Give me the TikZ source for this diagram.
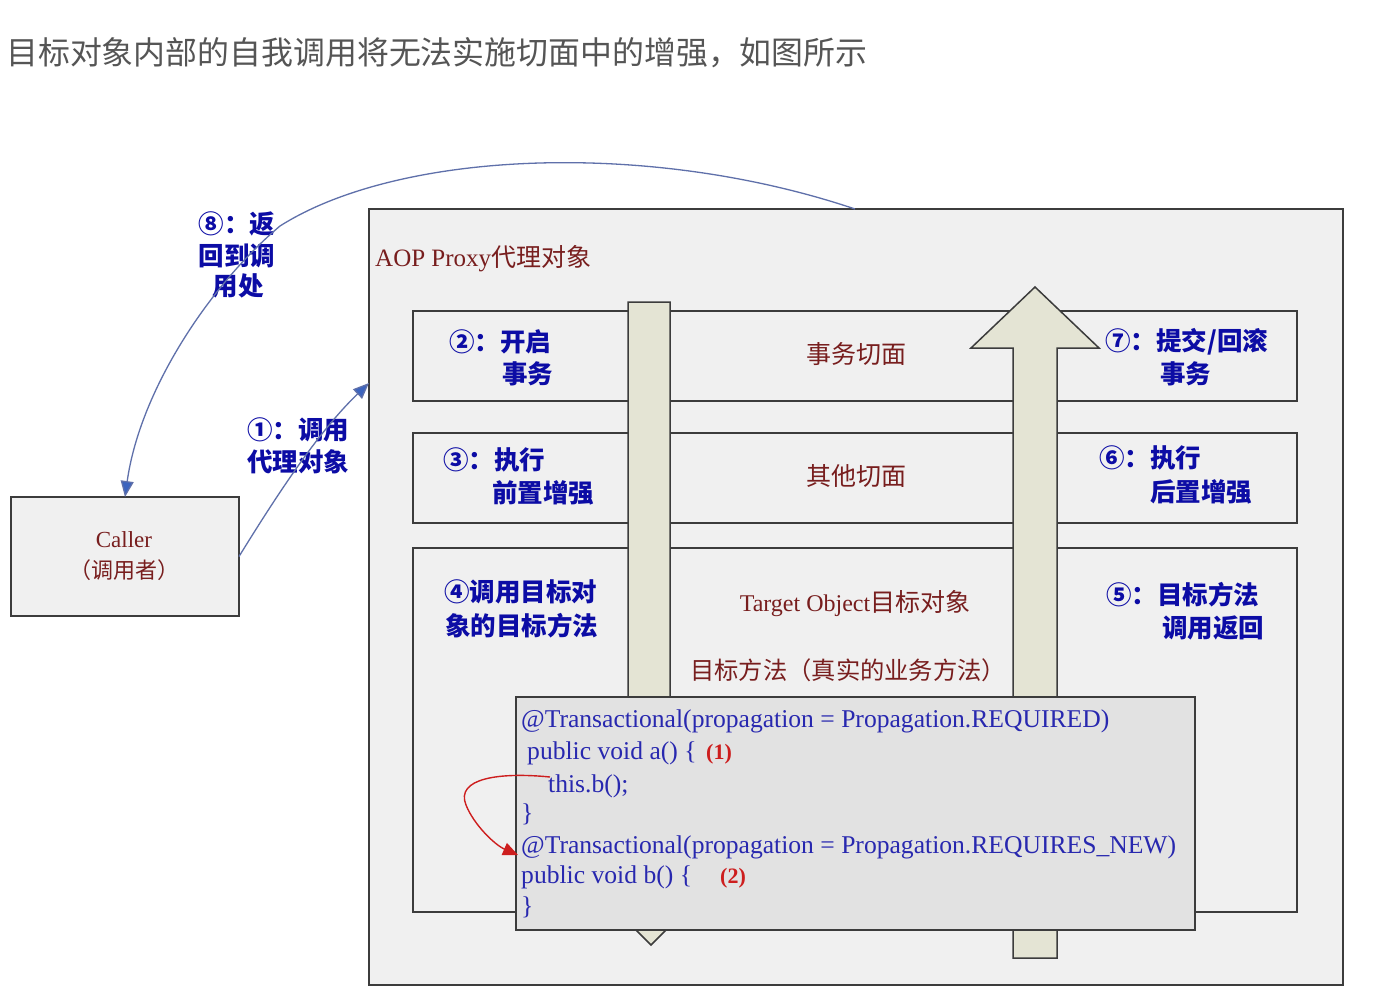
\documentclass[tikz,border=0pt]{standalone}
\usepackage{fontspec}
\setmainfont{Liberation Serif}
\newfontfamily\cjk{Noto Sans CJK SC}
\newfontfamily\lser{Liberation Serif}
\usetikzlibrary{arrows.meta}
\definecolor{labblue}{RGB}{12,12,165}
\definecolor{codeblue}{RGB}{40,40,175}
\definecolor{dred}{RGB}{120,30,30}
\definecolor{lred}{RGB}{205,30,30}
\definecolor{edge}{RGB}{60,60,60}
\definecolor{boxfill}{RGB}{240,240,240}
\definecolor{shaft}{RGB}{228,228,212}
\definecolor{codefill}{RGB}{226,226,226}
\definecolor{curve}{RGB}{95,112,170}
\definecolor{tipblue}{RGB}{60,100,190}
\definecolor{titlegray}{RGB}{85,85,85}
\tikzset{
  panel/.style={draw=edge, line width=1.8pt, fill=boxfill, inner sep=0pt, outer sep=0pt, anchor=north west},
  bluelab/.style={text=labblue, font=\cjk\bfseries\fontsize{25.5}{30}\selectfont, inner sep=0pt, anchor=west},
  bluelabc/.style={text=labblue, font=\cjk\bfseries\fontsize{25.5}{30}\selectfont, inner sep=0pt, anchor=center},
  redtxt/.style={text=dred, font=\cjk\fontsize{25}{30}\selectfont, inner sep=0pt},
  codetxt/.style={text=codeblue, font=\lser\fontsize{25.6}{30}\selectfont, inner sep=0pt, anchor=base west},
  codenum/.style={text=lred, font=\lser\bfseries\fontsize{22}{26}\selectfont, inner sep=0pt, anchor=base west},
  bigarrow/.style={draw=edge, line width=1.5pt, fill=shaft},
  flow/.style={draw=curve, line width=1.3pt, -{Triangle[length=16pt,width=13pt,fill=tipblue]}},
  selfcall/.style={draw=lred, line width=1.4pt, -{Triangle[length=15pt,width=13pt,fill=lred]}}
}
\begin{document}
\begin{tikzpicture}[x=1pt,y=-1pt]
\fill[white] (0,0) rectangle (1386,998);
\useasboundingbox (0,0) rectangle (1386,998);

% title
\node[text=titlegray, font=\cjk\fontsize{31.9}{36}\selectfont, inner sep=0pt, anchor=west] (title) at (6,53) {目标对象内部的自我调用将无法实施切面中的增强，如图所示};

% caller
\node[panel, minimum width=228pt, minimum height=119pt] (caller) at (11,497) {};
\node[text=dred, font=\lser\fontsize{23}{27}\selectfont, inner sep=0pt] (callername) at (124,540) {Caller};
\node[redtxt, font=\cjk\fontsize{22}{26}\selectfont] (callerzh) at (124,570) {（调用者）};

% proxy box
\node[panel, minimum width=974pt, minimum height=776pt] (proxy) at (369,209) {};
\node[redtxt, anchor=west] (proxytitle) at (375,259) {{\lser AOP Proxy}代理对象};

% rows
\node[panel, minimum width=884pt, minimum height=90pt] (row1) at (413,311) {};
\node[panel, minimum width=884pt, minimum height=90pt] (row2) at (413,433) {};
\node[panel, minimum width=884pt, minimum height=364pt] (row3) at (413,548) {};

% big arrows
\path[bigarrow] (628,302) -- (670,302) -- (670,881) -- (715,881) -- (651,945) -- (587,881) -- (628,881) -- cycle;
\path[bigarrow] (1013,958) -- (1057,958) -- (1057,348) -- (1099,348) -- (1035,287) -- (971,348) -- (1013,348) -- cycle;

% row texts
\node[bluelab] (l2a) at (449,342) {②：开启};
\node[bluelab] (l2b) at (502,374) {事务};
\node[redtxt] (asp1) at (856,354) {事务切面};
\node[bluelab] (l7a) at (1105,342) {⑦：提交/回滚};
\node[bluelab] (l7b) at (1160,374) {事务};

\node[bluelab] (l3a) at (443,460) {③：执行};
\node[bluelab] (l3b) at (492,493) {前置增强};
\node[redtxt] (asp2) at (856,476) {其他切面};
\node[bluelab] (l6a) at (1099,458) {⑥：执行};
\node[bluelab] (l6b) at (1150,492) {后置增强};

\node[bluelab] (l4a) at (444,592) {④调用目标对};
\node[bluelab] (l4b) at (445,626) {象的目标方法};
\node[redtxt] (tobj) at (855,604) {{\lser\fontsize{24}{28}\selectfont Target Object}目标对象};
\node[redtxt, anchor=west, font=\cjk\fontsize{24.3}{29}\selectfont] (tmeth) at (690,670) {目标方法（真实的业务方法）};
\node[bluelab] (l5a) at (1106,595) {⑤：目标方法};
\node[bluelab] (l5b) at (1162,628) {调用返回};

% code box
\node[panel, draw=edge, fill=codefill, minimum width=679pt, minimum height=233pt] (code) at (516,697) {};
\node[codetxt] (c1) at (521,727) {@Transactional(propagation = Propagation.REQUIRED)};
\node[codetxt] (c2) at (527,759) {public void a() \{};
\node[codenum] (n1) at (706,759) {(1)};
\node[codetxt] (c3) at (548,792) {this.b();};
\node[codetxt] (c4) at (521,821) {\}};
\node[codetxt] (c5) at (521,853) {@Transactional(propagation = Propagation.REQUIRES\_NEW)};
\node[codetxt] (c6) at (521,883) {public void b() \{};
\node[codenum] (n2) at (720,883) {(2)};
\node[codetxt] (c7) at (521,914) {\}};

% self call arrow
\coordinate (selfstart) at (550,777);
\coordinate (selfend) at (518,855);
\draw[selfcall] (selfstart) .. controls (500,772) and (455,778) .. (466,805) .. controls (474,825) and (495,845) .. (selfend);

% labels on outer arrows
\node[bluelabc] (l8a) at (237,224) {⑧：返};
\node[bluelabc] (l8b) at (237,256) {回到调};
\node[bluelabc] (l8c) at (238,286) {用处};
\node[bluelab] (l1a) at (247,430) {①：调用};
\node[bluelab] (l1b) at (247,462) {代理对象};

% outer curves
\coordinate (retstart) at (855,209);
\coordinate (callin) at (369,383);
\draw[flow] (retstart) .. controls (650,140) and (400,150) .. (280,226) .. controls (210,285) and (140,390) .. (caller.north);
\draw[flow] (caller.east) .. controls (280,490) and (320,430) .. (callin);
\end{tikzpicture}
\end{document}
